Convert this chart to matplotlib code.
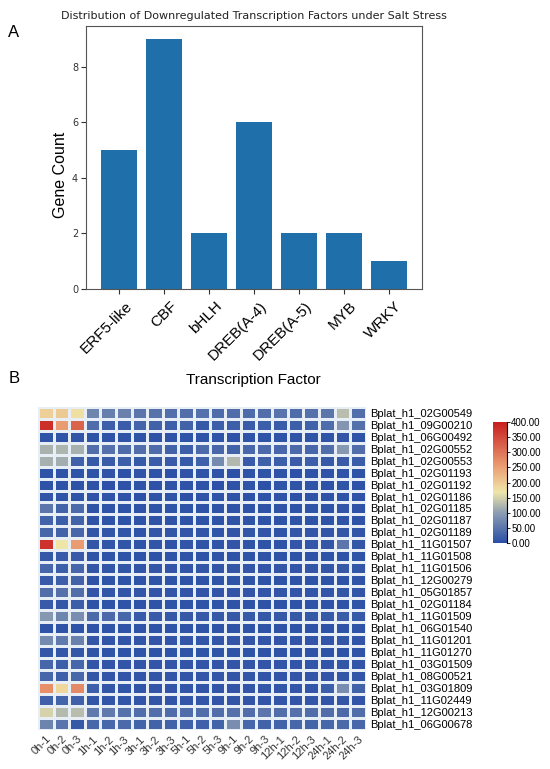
import matplotlib
matplotlib.use('Agg')
import matplotlib.pyplot as plt
import numpy as np
from matplotlib.colors import LinearSegmentedColormap
from matplotlib.ticker import FormatStrFormatter

# panel A data
tf_names = ['ERF5-like', 'CBF', 'bHLH', 'DREB(A-4)', 'DREB(A-5)', 'MYB', 'WRKY']
tf_counts = [5, 9, 2, 6, 2, 2, 1]

# panel B data
samples = ['0h-1', '0h-2', '0h-3', '1h-1', '1h-2', '1h-3', '3h-1', '3h-2', '3h-3',
           '5h-1', '5h-2', '5h-3', '9h-1', '9h-2', '9h-3', '12h-1', '12h-2', '12h-3',
           '24h-1', '24h-2', '24h-3']
genes = ['Bplat_h1_02G00549', 'Bplat_h1_09G00210', 'Bplat_h1_06G00492', 'Bplat_h1_02G00552',
         'Bplat_h1_02G00553', 'Bplat_h1_02G01193', 'Bplat_h1_02G01192', 'Bplat_h1_02G01186',
         'Bplat_h1_02G01185', 'Bplat_h1_02G01187', 'Bplat_h1_02G01189', 'Bplat_h1_11G01507',
         'Bplat_h1_11G01508', 'Bplat_h1_11G01506', 'Bplat_h1_12G00279', 'Bplat_h1_05G01857',
         'Bplat_h1_02G01184', 'Bplat_h1_11G01509', 'Bplat_h1_06G01540', 'Bplat_h1_11G01201',
         'Bplat_h1_11G01270', 'Bplat_h1_03G01509', 'Bplat_h1_08G00521', 'Bplat_h1_03G01809',
         'Bplat_h1_11G02449', 'Bplat_h1_12G00213', 'Bplat_h1_06G00678']
expr = [
    [195, 200, 175, 70, 62, 65, 50, 46, 42, 40, 44, 36, 40, 36, 40, 48, 36, 44, 50, 130, 42],
    [380, 255, 320, 38, 20, 18, 28, 24, 20, 25, 12, 20, 20, 16, 20, 16, 20, 24, 38, 90, 45],
    [6, 6, 8, 5, 5, 5, 5, 5, 5, 5, 5, 5, 5, 5, 5, 5, 5, 5, 5, 8, 5],
    [120, 122, 118, 40, 45, 36, 40, 36, 26, 20, 35, 30, 25, 30, 35, 30, 35, 30, 40, 95, 40],
    [118, 115, 22, 14, 16, 20, 14, 18, 16, 14, 22, 75, 125, 15, 22, 20, 18, 20, 14, 16, 18],
    [5, 5, 5, 5, 5, 4, 5, 5, 4, 5, 5, 5, 4, 5, 5, 5, 4, 5, 5, 5, 5],
    [6, 5, 5, 5, 4, 5, 5, 4, 5, 5, 5, 4, 5, 5, 4, 5, 5, 5, 4, 5, 5],
    [8, 6, 6, 5, 5, 5, 4, 5, 5, 4, 5, 5, 5, 4, 5, 5, 4, 5, 5, 6, 5],
    [50, 25, 35, 6, 5, 6, 5, 5, 5, 6, 5, 5, 5, 5, 5, 5, 5, 5, 6, 8, 6],
    [28, 20, 25, 5, 5, 5, 5, 5, 5, 5, 5, 5, 5, 5, 5, 5, 5, 5, 5, 6, 5],
    [30, 25, 30, 8, 8, 8, 7, 8, 8, 8, 8, 7, 8, 8, 8, 7, 8, 8, 8, 10, 8],
    [375, 170, 255, 10, 8, 8, 6, 8, 6, 8, 6, 6, 8, 6, 6, 6, 8, 8, 10, 50, 10],
    [12, 15, 15, 5, 5, 5, 5, 5, 5, 5, 5, 5, 5, 5, 5, 5, 5, 5, 5, 6, 5],
    [30, 20, 30, 10, 8, 10, 8, 10, 8, 8, 10, 8, 10, 8, 8, 10, 8, 10, 10, 12, 10],
    [15, 20, 25, 5, 5, 5, 5, 5, 5, 5, 5, 5, 5, 5, 5, 5, 5, 5, 5, 6, 5],
    [40, 45, 40, 8, 8, 8, 8, 8, 8, 8, 8, 8, 8, 8, 8, 8, 8, 8, 8, 10, 8],
    [15, 10, 20, 5, 5, 5, 5, 5, 5, 5, 5, 5, 5, 5, 5, 5, 5, 5, 5, 6, 5],
    [95, 70, 80, 35, 35, 30, 15, 15, 12, 12, 14, 12, 12, 14, 12, 12, 12, 12, 14, 18, 14],
    [5, 5, 5, 5, 5, 5, 5, 5, 5, 5, 5, 5, 5, 5, 5, 5, 5, 5, 5, 5, 5],
    [75, 55, 65, 10, 8, 8, 8, 8, 8, 8, 8, 8, 8, 8, 8, 8, 8, 8, 8, 10, 8],
    [10, 8, 10, 5, 5, 5, 5, 5, 5, 5, 5, 5, 5, 5, 5, 5, 5, 5, 5, 6, 5],
    [30, 20, 30, 8, 8, 8, 8, 8, 8, 8, 8, 8, 8, 8, 8, 8, 8, 8, 8, 10, 8],
    [30, 20, 30, 8, 8, 8, 8, 8, 8, 8, 8, 8, 8, 8, 8, 8, 8, 8, 8, 10, 8],
    [270, 185, 275, 20, 10, 8, 8, 8, 8, 8, 8, 8, 8, 8, 8, 8, 8, 8, 20, 80, 25],
    [22, 28, 22, 8, 8, 8, 8, 8, 8, 8, 8, 8, 8, 8, 8, 8, 8, 8, 8, 10, 8],
    [150, 128, 130, 55, 55, 45, 40, 42, 38, 38, 40, 42, 45, 42, 50, 40, 45, 40, 40, 35, 40],
    [68, 48, 12, 30, 30, 35, 25, 25, 25, 22, 22, 28, 80, 30, 25, 28, 30, 28, 30, 35, 30],
]

arial = 'Liberation Sans'

fig = plt.figure(figsize=(5.5, 7.69), dpi=100)

# ---- panel A: bar chart ----
ax1 = fig.add_axes([0.156, 0.624, 0.611, 0.342])
ax1.bar(np.arange(len(tf_names)), tf_counts, color='#1f6fab', width=0.8)
ax1.set_xticks(np.arange(len(tf_names)))
ax1.set_xticklabels(tf_names, rotation=45, ha='right', rotation_mode='anchor',
                    fontsize=11, family=arial)
for lab in ax1.get_xticklabels():
    lab.set_transform(lab.get_transform() + matplotlib.transforms.ScaledTranslation(
        6 / 100, 0, fig.dpi_scale_trans))
ax1.tick_params(axis='y', labelsize=7, colors='#333333', pad=2)
ax1.tick_params(axis='x', colors='#333333', labelcolor='black')
ax1.set_ylabel('Gene Count', fontsize=11.5, family=arial)
ax1.yaxis.set_label_coords(-0.054, 0.433)
ax1.set_xlabel('Transcription Factor', fontsize=11, family=arial)
ax1.xaxis.set_label_coords(0.5, -0.318)
ax1.set_title('Distribution of Downregulated Transcription Factors under Salt Stress',
              fontsize=8, pad=5, color='#222222')
for s in ax1.spines.values():
    s.set_color('#555555')

fig.text(0.015, 0.958, 'A', fontsize=12, family=arial, va='center')
fig.text(0.015, 0.508, 'B', fontsize=12, family=arial, va='center')

# ---- panel B: heatmap ----
cmap = LinearSegmentedColormap.from_list('exp', [
    (0.0, '#2a4fa6'), (0.25, '#8d9db2'), (0.42, '#efe6a8'),
    (0.62, '#eba276'), (1.0, '#c81e1e')])

data = np.array(expr, dtype=float)
ax2 = fig.add_axes([0.069, 0.051, 0.596, 0.420])
mesh = ax2.pcolormesh(data, cmap=cmap, vmin=0, vmax=400,
                      edgecolors='#e8eef5', linewidth=1.0)
ax2.set_xlim(0, len(samples))
ax2.set_ylim(len(genes), 0)
ax2.set_xticks(np.arange(len(samples)) + 0.5)
ax2.set_xticklabels(samples, rotation=45, ha='right', rotation_mode='anchor',
                    fontsize=8, family=arial, color='#333333')
ax2.set_yticks(np.arange(len(genes)) + 0.5)
ax2.set_yticklabels(genes, fontsize=8, family=arial)
ax2.yaxis.tick_right()
ax2.tick_params(length=0, pad=3)
for s in ax2.spines.values():
    s.set_visible(False)

cax = fig.add_axes([0.896, 0.294, 0.026, 0.157])
cb = fig.colorbar(mesh, cax=cax)
cb.outline.set_visible(False)
cax.plot([1, 1], [0, 1], transform=cax.transAxes, color='black', lw=0.8, clip_on=False)
cb.set_ticks([0, 50, 100, 150, 200, 250, 300, 350, 400])
cb.ax.yaxis.set_major_formatter(FormatStrFormatter('%.2f'))
cb.ax.tick_params(labelsize=7, length=2, width=0.6, pad=1)
for t in cb.ax.get_yticklabels():
    t.set_family(arial)

plt.savefig('out.png', dpi=100)
plt.close(fig)
